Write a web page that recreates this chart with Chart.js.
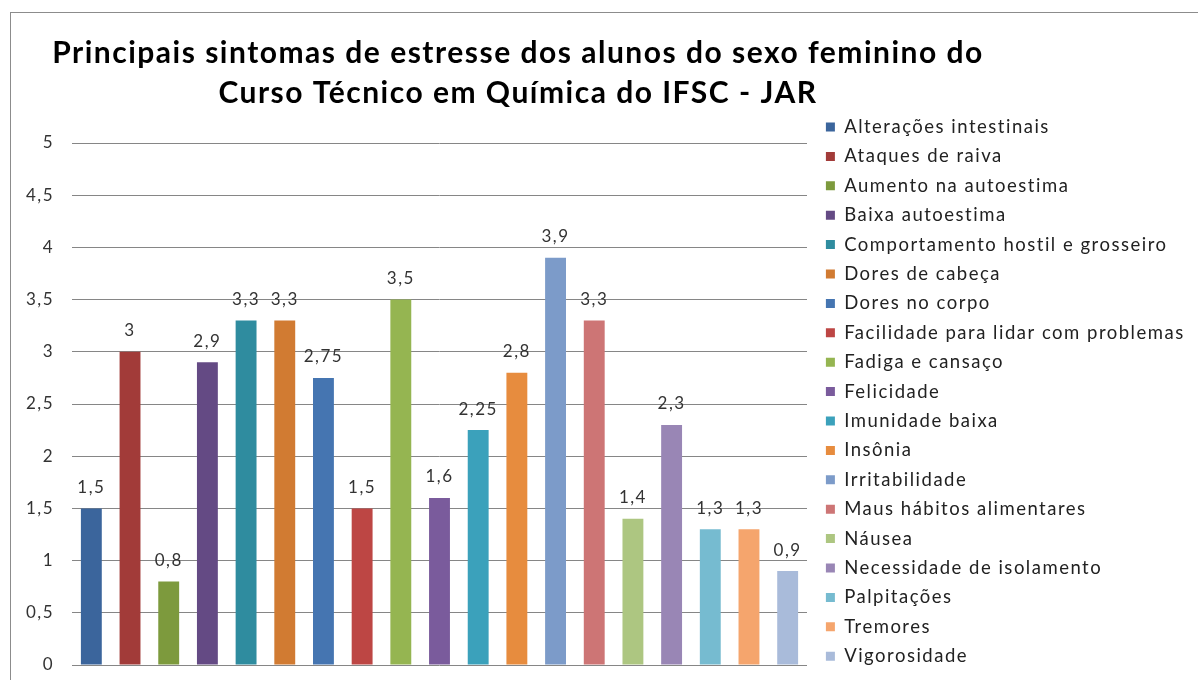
<!DOCTYPE html>
<html>
<head>
	<meta charset="utf-8">
	<title>Sintomas de estresse</title>
	<style>
		html, body {
			margin: 0;
			padding: 0;
			background: #fff;
			overflow: hidden;
		}
		.frame {
			position: absolute;
			left: 10px;
			top: 12px;
			width: 1200px;
			height: 700px;
			border: 1px solid #8c8c8c;
			box-sizing: border-box;
		}
		.wrap {
			position: absolute;
			left: 0;
			top: 0;
			width: 1198px;
			height: 680px;
		}
	</style>
</head>
<body>
	<div class="frame"></div>
	<div class="wrap"><canvas id="chart" width="1198" height="680"></canvas></div>
	<script src="https://cdn.jsdelivr.net/npm/chart.js@4"></script>
	<script>
		const title_lines = [
			"Principais sintomas de estresse dos alunos do sexo feminino do",
			"Curso Técnico em Química do IFSC - JAR"
		];
		const symptoms = [
			"Alterações intestinais", "Ataques de raiva", "Aumento na autoestima",
			"Baixa autoestima", "Comportamento hostil e grosseiro", "Dores de cabeça",
			"Dores no corpo", "Facilidade para lidar com problemas", "Fadiga e cansaço",
			"Felicidade", "Imunidade baixa", "Insônia", "Irritabilidade",
			"Maus hábitos alimentares", "Náusea", "Necessidade de isolamento",
			"Palpitações", "Tremores", "Vigorosidade"
		];
		const values = [1.5, 3, 0.8, 2.9, 3.3, 3.3, 2.75, 1.5, 3.5, 1.6, 2.25, 2.8, 3.9, 3.3, 1.4, 2.3, 1.3, 1.3, 0.9];
		const colors = [
			"#3b659c", "#a23b39", "#7d9a3d", "#644a84", "#2f8c9f", "#d17b32",
			"#4575b1", "#bd4644", "#95b551", "#7a5b9c", "#3ba1bb", "#e78c3e",
			"#7c9bc9", "#cd7575", "#adc681", "#9986b5", "#76bbd0", "#f5a56d", "#a9bbda"
		];
		const y_ticks = [0, 0.5, 1, 1.5, 2, 2.5, 3, 3.5, 4, 4.5, 5];

		const fmt = v => String(v).replace(".", ",");
		const FONT = "Lato, 'DejaVu Sans', sans-serif";
		const SPACING = "1.5px";

		// numbers above the bars
		const valueLabels = {
			id: "valueLabels",
			afterDatasetsDraw(chart) {
				const ctx = chart.ctx;
				ctx.save();
				ctx.font = "17px " + FONT;
				ctx.fillStyle = "#333";
				ctx.textAlign = "center";
				ctx.textBaseline = "middle";
				chart.data.datasets.forEach((ds, i) => {
					const bar = chart.getDatasetMeta(i).data[0];
					ctx.fillText(fmt(ds.data[0]), bar.x, bar.y - 21);
				});
				ctx.restore();
			}
		};

		// the original text is loosely spaced, and the legend sits in a fixed column
		const placeBoxes = {
			id: "placeBoxes",
			beforeLayout(chart) {
				chart.ctx.letterSpacing = SPACING;
				const lg = chart.legend;
				if (lg && !lg._fixed) {
					const fit = lg.fit.bind(lg);
					lg.fit = function () { fit(); this.width = 391; };
					lg._fixed = true;
				}
			},
			afterLayout(chart) {
				const lg = chart.legend;
				const dx = 8;
				lg.left += dx;
				lg.right += dx;
				lg.top = 106.85;
				lg.bottom = 700;
				const t = chart.titleBlock;
				t.left = 0;
				t.right = 1036;
			},
			beforeDraw(chart) {
				chart.ctx.letterSpacing = SPACING;
			}
		};

		new Chart(document.getElementById("chart"), {
			type: "bar",
			data: {
				labels: [""],
				datasets: symptoms.map((s, i) => ({
					label: s,
					data: [values[i]],
					backgroundColor: colors[i],
					barPercentage: 0.54,
					categoryPercentage: 1
				}))
			},
			options: {
				responsive: false,
				animation: false,
				devicePixelRatio: 1,
				layout: { padding: { left: 0, right: 0, top: 0, bottom: 15 } },
				plugins: {
					title: {
						display: true,
						text: title_lines,
						color: "#000",
						font: { family: FONT, size: 30, weight: "bold", lineHeight: 1.35 },
						padding: { top: 33, bottom: 29 }
					},
					legend: {
						position: "right",
						align: "start",
						labels: {
							boxWidth: 9,
							boxHeight: 9,
							padding: 10.9,
							color: "#222",
							font: { family: FONT, size: 18.5 }
						}
					},
					tooltip: { enabled: false }
				},
				scales: {
					x: {
						display: false
					},
					y: {
						min: 0,
						max: 5,
						afterBuildTicks(scale) { scale.ticks = y_ticks.map(v => ({ value: v })); },
						ticks: {
							color: "#333",
							padding: 18,
							font: { family: FONT, size: 17 },
							callback: v => fmt(v)
						},
						grid: { color: "#868686", drawTicks: false },
						border: { display: false },
						afterFit(scale) {
							scale.width = 72;
							scale.paddingTop = 0;
							scale.paddingBottom = 0;
						}
					}
				}
			},
			plugins: [valueLabels, placeBoxes]
		});
	</script>
</body>
</html>
